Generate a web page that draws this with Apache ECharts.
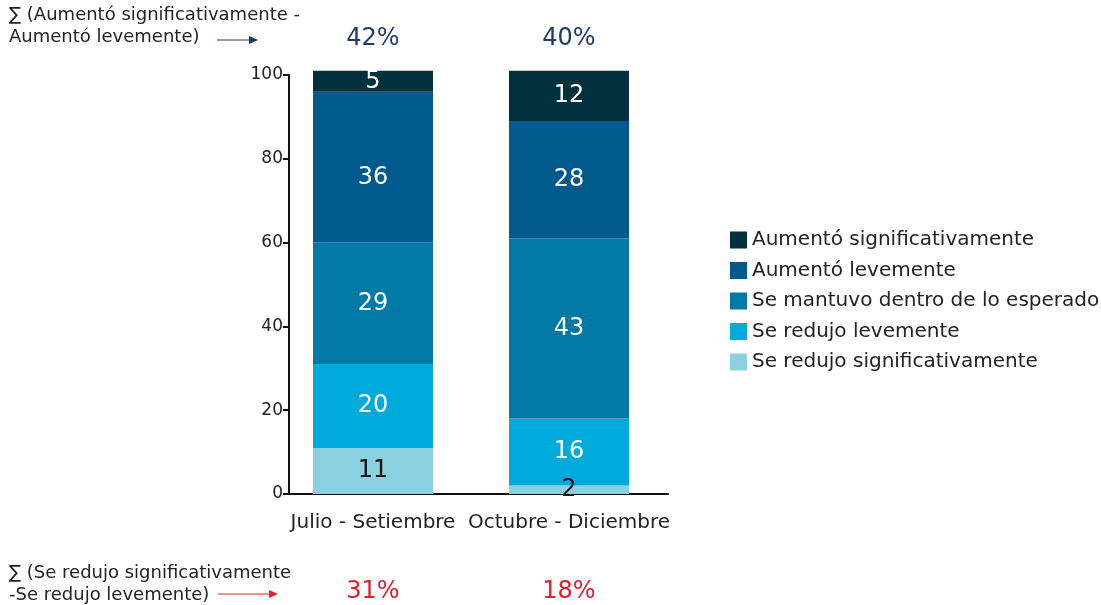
<!DOCTYPE html>
<html>
<head>
<meta charset="utf-8">
<script src="https://cdn.jsdelivr.net/npm/echarts@6/dist/echarts.min.js"></script>
<style>
  html, body { margin: 0; padding: 0; background: #fff; }
  #chart { width: 1101px; height: 605px; }
</style>
</head>
<body>
<div id="chart"></div>
<script>
const categories = ['Julio - Setiembre', 'Octubre - Diciembre']
const seriesNames = [
  'Se redujo significativamente',
  'Se redujo levemente',
  'Se mantuvo dentro de lo esperado',
  'Aumentó levemente',
  'Aumentó significativamente'
]
const redujoSig = [11, 2]
const redujoLev = [20, 16]
const mantuvo = [29, 43]
const aumentoLev = [36, 28]
const aumentoSig = [5, 12]
const sumAumento = [42, 40]
const sumRedujo = [31, 18]

const seriesColors = ['#8bd0e0', '#00abdc', '#0079a4', '#005a8b', '#03303f']
const labelColors = ['#111', '#fff', '#fff', '#fff', '#fff']
const font = 'DejaVu Sans'

const chart = echarts.init(document.getElementById('chart'))

const values = [redujoSig, redujoLev, mantuvo, aumentoLev, aumentoSig]

const series = seriesNames.map((name, i) => ({
  name,
  type: 'bar',
  stack: 'total',
  barWidth: 120,
  clip: false,
  data: values[i].map((v, j) =>
    // the reference sets this one label a little lower than centre
    i === 3 && j === 0 ? { value: v, label: { offset: [0, 11] } } : v
  ),
  itemStyle: { color: seriesColors[i] },
  label: {
    show: true,
    position: 'inside',
    color: labelColors[i],
    fontFamily: font,
    fontSize: 24
  }
}))

function arrow(x1, x2, y, color) {
  return {
    type: 'group',
    children: [
      { type: 'line', shape: { x1, y1: y, x2: x2 - 8, y2: y }, style: { stroke: color, lineWidth: 1 } },
      { type: 'polygon', shape: { points: [[x2 - 9, y - 4], [x2, y], [x2 - 9, y + 4]] }, style: { fill: color } }
    ]
  }
}

const hidden = { show: false }

chart.setOption({
  animation: false,
  textStyle: { fontFamily: font },
  grid: [
    // bars
    { left: 275, width: 392, top: 75, bottom: 111, outerBoundsMode: 'none' },
    // x axis line, starting at the y axis
    { left: 289, right: 433, top: 75, bottom: 111, outerBoundsMode: 'none' }
  ],
  legend: {
    orient: 'vertical',
    left: 725,
    top: 225,
    itemWidth: 17,
    itemHeight: 17,
    itemGap: 10.5,
    icon: 'rect',
    data: seriesNames.slice().reverse(),
    textStyle: { fontFamily: font, fontSize: 20, color: '#222' }
  },
  xAxis: [
    {
      type: 'category',
      data: categories,
      axisLine: hidden,
      axisTick: hidden,
      axisLabel: { color: '#222', fontSize: 20, margin: 19, interval: 0, hideOverlap: false }
    },
    {
      type: 'category',
      position: 'top',
      data: sumAumento,
      offset: 16,
      axisLine: hidden,
      axisTick: hidden,
      axisLabel: { color: '#1f3a6b', fontSize: 24, formatter: '{value}%' }
    },
    {
      type: 'category',
      position: 'bottom',
      data: sumRedujo,
      offset: 78,
      axisLine: hidden,
      axisTick: hidden,
      axisLabel: { color: '#e3202d', fontSize: 24, formatter: '{value}%' }
    },
    {
      type: 'value',
      gridIndex: 1,
      min: 0,
      max: 1,
      splitLine: hidden,
      axisTick: hidden,
      axisLabel: hidden,
      axisLine: { show: true, lineStyle: { color: '#111', width: 2 } }
    }
  ],
  yAxis: [
    {
      type: 'value',
      min: 0,
      max: 100,
      interval: 20,
      offset: -14,
      splitLine: hidden,
      axisLine: { show: true, lineStyle: { color: '#111', width: 2 } },
      axisTick: { show: true, length: 6, lineStyle: { color: '#111', width: 2 } },
      axisLabel: { color: '#222', fontSize: 17, margin: 6 }
    },
    {
      type: 'value',
      gridIndex: 1,
      min: 0,
      max: 1,
      show: false
    }
  ],
  graphic: [
    {
      type: 'text',
      left: 9,
      top: 4,
      style: {
        text: '∑ (Aumentó significativamente -\nAumentó levemente)',
        font: '18px "' + font + '"',
        fill: '#222',
        lineHeight: 22
      }
    },
    arrow(217, 258, 40, '#1f3a6b'),
    {
      type: 'text',
      left: 9,
      top: 562,
      style: {
        text: '∑ (Se redujo significativamente\n-Se redujo levemente)',
        font: '18px "' + font + '"',
        fill: '#222',
        lineHeight: 22
      }
    },
    arrow(218, 278, 594, '#e3202d')
  ],
  series
})
</script>
</body>
</html>
